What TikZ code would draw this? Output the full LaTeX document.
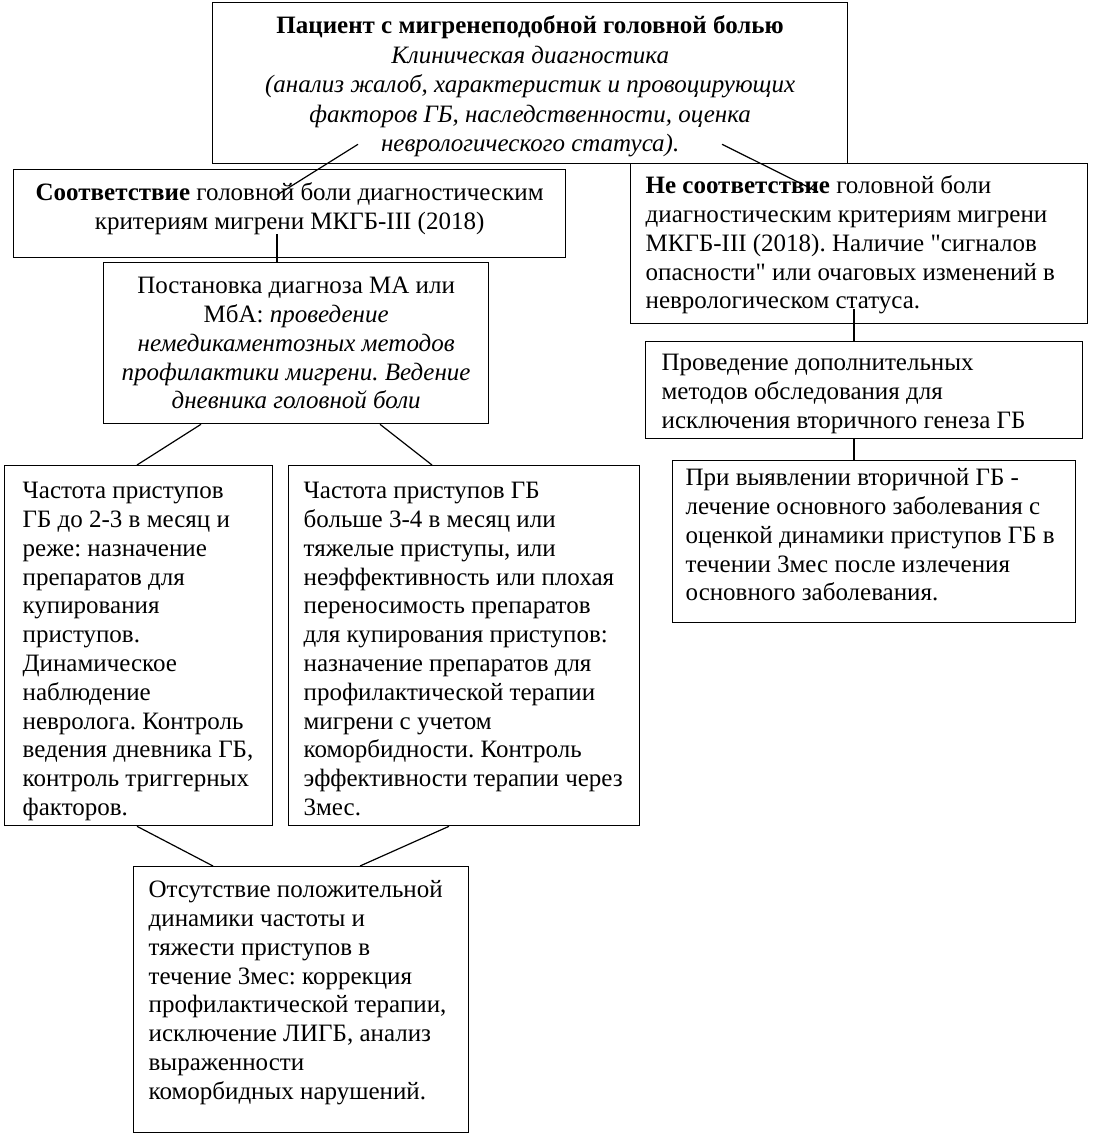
\documentclass[tikz,border=0pt]{standalone}
\usepackage{fontspec}
\setmainfont{Liberation Serif}[Ligatures=TeXOff]
\usetikzlibrary{calc}
\frenchspacing
\newcommand\boxL[5]{\parbox[c][#2pt][t]{#1pt}{\frenchspacing\vspace*{#3pt}\hspace*{#4pt}\begin{tabular}[t]{@{}l@{}}#5\end{tabular}}}
\newcommand\boxC[4]{\parbox[c][#2pt][t]{#1pt}{\frenchspacing\vspace*{#3pt}\centering\begin{tabular}[t]{@{}c@{}}#4\end{tabular}\par}}
\tikzset{
  fbox/.style={draw=black, line width=1.3pt, inner sep=0pt, anchor=north west, fill=white,
    font=\fontsize{25}{28.8}\selectfont},
  link/.style={draw=black, line width=1.2pt}
}
\begin{document}
\begin{tikzpicture}[x=1pt, y=-1pt]
\useasboundingbox[fill=white] (0,0) rectangle (1092,1137);

\node[fbox, font=\fontsize{25}{29.5}\selectfont] (b1) at (212,2) {\boxC{635}{161}{10.35}{%
\textbf{Пациент с мигренеподобной головной болью}\\
\textit{Клиническая диагностика}\\
\textit{(анализ жалоб, характеристик и провоцирующих}\\
\textit{факторов ГБ, наследственности, оценка}\\
\textit{неврологического статуса).}}};

\node[fbox] (b2) at (13,169) {\boxC{552}{88}{10.84}{%
\textbf{Соответствие} головной боли диагностическим\\
критериям мигрени МКГБ-III (2018)}};

\node[fbox] (b3) at (103,262) {\boxC{385}{161}{10.84}{%
Постановка диагноза МА или\\
МбА: \textit{проведение}\\
\textit{немедикаментозных методов}\\
\textit{профилактики мигрени. Ведение}\\
\textit{дневника головной боли}}};

\node[fbox] (b4) at (630,163) {\boxL{457}{160}{9.84}{15}{%
\textbf{Не соответствие} головной боли\\
диагностическим критериям мигрени\\
МКГБ-III (2018). Наличие "сигналов\\
опасности" или очаговых изменений в\\
неврологическом статуса.}};

\node[fbox] (b5) at (645,341) {\boxL{437}{97}{8.84}{16}{%
Проведение дополнительных\\
методов обследования для\\
исключения вторичного генеза ГБ}};

\node[fbox] (b6) at (672,460) {\boxL{403}{162}{4.84}{13}{%
При выявлении вторичной ГБ -\\
лечение основного заболевания с\\
оценкой динамики приступов ГБ в\\
течении 3мес после излечения\\
основного заболевания.}};

\node[fbox] (b7) at (4,465) {\boxL{268}{360}{12.84}{18}{%
Частота приступов\\
ГБ до 2-3 в месяц и\\
реже: назначение\\
препаратов для\\
купирования\\
приступов.\\
Динамическое\\
наблюдение\\
невролога. Контроль\\
ведения дневника ГБ,\\
контроль триггерных\\
факторов.}};

\node[fbox] (b8) at (288,465) {\boxL{351}{360}{12.84}{15}{%
Частота приступов ГБ\\
больше 3-4 в месяц или\\
тяжелые приступы, или\\
неэффективность или плохая\\
переносимость препаратов\\
для купирования приступов:\\
назначение препаратов для\\
профилактической терапии\\
мигрени с учетом\\
коморбидности. Контроль\\
эффективности терапии через\\
3мес.}};

\node[fbox] (b9) at (133,866) {\boxL{335}{266}{10.84}{15}{%
Отсутствие положительной\\
динамики частоты и\\
тяжести приступов в\\
течение 3мес: коррекция\\
профилактической терапии,\\
исключение ЛИГБ, анализ\\
выраженности\\
коморбидных нарушений.}};

% connectors (drawn over the boxes, as in the reference)
\draw[link] ($(b1.south west)+(146,-20)$) -- ($(b2.north west)+(264,26)$);
\draw[link] ($(b1.south west)+(510,-20)$) -- ($(b4.north west)+(188,29)$);
\draw[link] ($(b2.south west)+(264,-24)$) -- ($(b3.north west)+(174,0)$);
\draw[link] ($(b4.south west)+(224,-15)$) -- ($(b5.north west)+(209,0)$);
\draw[link] ($(b5.south west)+(209,0)$) -- ($(b6.north west)+(182,0)$);
\draw[link] ($(b3.south west)+(98,0)$) -- ($(b7.north west)+(133,0)$);
\draw[link] ($(b3.south west)+(277,0)$) -- ($(b8.north west)+(144,0)$);
\draw[link] ($(b7.south west)+(133,0)$) -- ($(b9.north west)+(80,0)$);
\draw[link] ($(b8.south west)+(161,0)$) -- ($(b9.north west)+(227,0)$);
\end{tikzpicture}
\end{document}
